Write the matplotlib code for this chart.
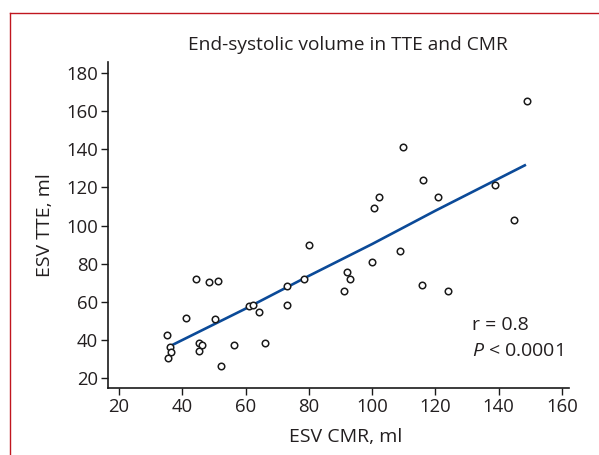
import matplotlib
matplotlib.use("Agg")
import matplotlib.pyplot as plt
from matplotlib.lines import Line2D

plt.rcParams['font.family'] = ['Open Sans', 'DejaVu Sans']
plt.rcParams['mathtext.fontset'] = 'custom'
plt.rcParams['mathtext.it'] = 'Open Sans:italic'
plt.rcParams['mathtext.rm'] = 'Open Sans'

# Data
esv_cmr = [44.2, 48.3, 51.2, 41.1, 50.2, 35.2, 36.2, 36.5, 35.4, 45.2, 46.3, 45.2,
           52.1, 56.3, 61.0, 62.3, 64.2, 66.0, 80.0, 73.1, 78.4, 73.1, 92.0, 92.9,
           91.0, 100.0, 108.9, 115.8, 123.9, 148.8, 109.8, 115.9, 102.0, 100.7,
           120.9, 138.9, 144.7]
esv_tte = [71.9, 70.5, 70.7, 51.6, 50.8, 42.6, 36.4, 33.6, 30.3, 38.5, 37.5, 34.2,
           26.3, 37.5, 57.6, 58.5, 54.6, 38.5, 89.6, 68.1, 72.1, 58.5, 75.6, 72.1,
           65.6, 80.7, 86.8, 68.8, 65.6, 165.3, 141.2, 124.0, 115.0, 109.0,
           115.0, 121.1, 103.1]

# Fitted line
fit_x = [36.2, 60.0, 80.0, 100.0, 120.0, 148.6]
fit_y = [36.8, 56.4, 73.6, 90.3, 107.8, 131.9]

x_ticks = [20, 40, 60, 80, 100, 120, 140, 160]
y_ticks = [20, 40, 60, 80, 100, 120, 140, 160, 180]

title = "End-systolic volume in TTE and CMR"
x_label = "ESV CMR, ml"
y_label = "ESV TTE, ml"
stat_r = "r = 0.8"
stat_p = r"$\mathit{P}$ < 0.0001"

txt = '#231f20'

W, H = 599, 455
fig = plt.figure(figsize=(W / 100, H / 100), dpi=100)
ax = fig.add_axes([108 / W, 1 - 388 / H, (569 - 108) / W, (388 - 62) / H])

ax.plot(fit_x, fit_y, color='#0b4a98', lw=1.9, solid_capstyle='butt', zorder=2)
ax.scatter(esv_cmr, esv_tte, s=22, facecolors='white', edgecolors='#1a1a1a',
           linewidths=1.1, zorder=3)

ax.set_xlim(16.5, 162.2)
ax.set_ylim(14.75, 185.8)
ax.set_xticks(x_ticks)
ax.set_yticks(y_ticks)
ax.spines['top'].set_visible(False)
ax.spines['right'].set_visible(False)
for s in ('left', 'bottom'):
    ax.spines[s].set_linewidth(1.2)
    ax.spines[s].set_color('#1a1a1a')
ax.tick_params(direction='out', length=5, width=1.0, colors='#1a1a1a',
               labelsize=13.3, labelcolor=txt, pad=2)

fig.text(348 / W, 1 - 45 / H, title, ha='center', va='center', fontsize=13.8, color=txt)
fig.text(346 / W, 1 - 437 / H, x_label, ha='center', va='center', fontsize=14, color=txt)
fig.text(45 / W, 1 - 225 / H, y_label, ha='center', va='center', rotation=90,
         fontsize=14, color=txt)
fig.text(472 / W, 1 - 325 / H, stat_r, ha='left', va='center', fontsize=14, color=txt)
fig.text(472 / W, 1 - 351 / H, stat_p, ha='left', va='center', fontsize=14, color=txt)

# red frame (left and top edges)
red = '#c0161f'
fig.add_artist(Line2D([9.5 / W, 9.5 / W], [0, 1 - 12.5 / H], transform=fig.transFigure,
                      color=red, lw=1.0))
fig.add_artist(Line2D([9.5 / W, 1], [1 - 12.5 / H, 1 - 12.5 / H], transform=fig.transFigure,
                      color=red, lw=1.0))

fig.savefig('out.png', dpi=100)
